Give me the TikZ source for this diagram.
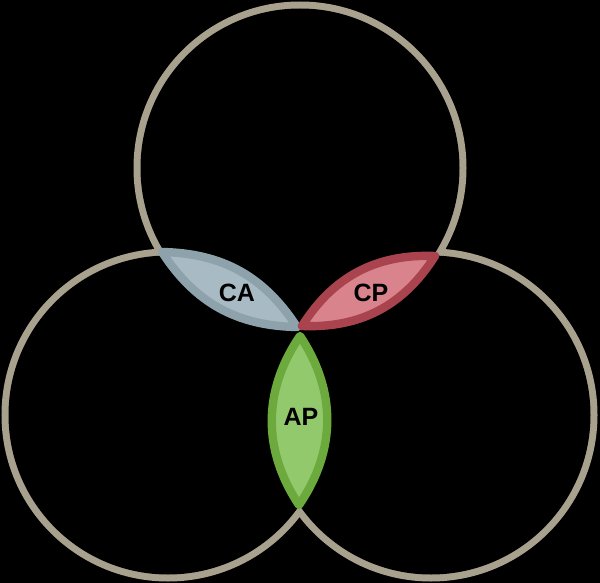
\documentclass[tikz,border=0pt]{standalone}
\usepackage{fontspec}
\setmainfont{Liberation Sans}
\definecolor{ringc}{HTML}{A8A18E}
\definecolor{cafill}{HTML}{A8BBC5}
\definecolor{caedge}{HTML}{8EA2AC}
\definecolor{cpfill}{HTML}{D9838D}
\definecolor{cpedge}{HTML}{A9444F}
\definecolor{apfill}{HTML}{93C96D}
\definecolor{apedge}{HTML}{6CAA3D}
\newcommand{\myr}{159.5}
\begin{document}
\begin{tikzpicture}[x=0.5pt,y=-0.5pt,
  ring/.style={draw=ringc, line width=7pt},
  leaf/.style={line width=4.2pt, line join=round},
  lbl/.style={font=\bfseries\fontsize{12.5}{14}\selectfont, text=black}]
\fill[black] (0,0) rectangle (600,583);
\useasboundingbox (0,0) rectangle (600,583);
\coordinate (T) at (300,168);
\coordinate (L) at (168,415);
\coordinate (R) at (431,415);
% union outline: thick strokes, inner halves covered by black fills
\draw[ring] (T) circle (\myr);
\draw[ring] (L) circle (\myr);
\draw[ring] (R) circle (\myr);
\fill[black] (T) circle (\myr);
\fill[black] (L) circle (\myr);
\fill[black] (R) circle (\myr);
% leaves
\coordinate (ap1) at (300,336);
\coordinate (ap2) at (299,505);
\coordinate (ca1) at (162,252);
\coordinate (ca2) at (297,327);
\coordinate (cp1) at (302,326);
\coordinate (cp2) at (435,256);
\draw[leaf, fill=apfill, draw=apedge] (ap1) to[bend left=34] (ap2) to[bend left=34] (ap1) -- cycle;
\draw[leaf, fill=cafill, draw=caedge] (ca1) to[bend left=28] (ca2) to[bend left=28] (ca1) -- cycle;
\draw[leaf, fill=cpfill, draw=cpedge] (cp1) to[bend left=30] (cp2) to[bend left=30] (cp1) -- cycle;
\node[lbl] (ca) at (237,293) {CA};
\node[lbl] (cp) at (371,293) {CP};
\node[lbl] (ap) at (301,417) {AP};
\end{tikzpicture}
\end{document}
